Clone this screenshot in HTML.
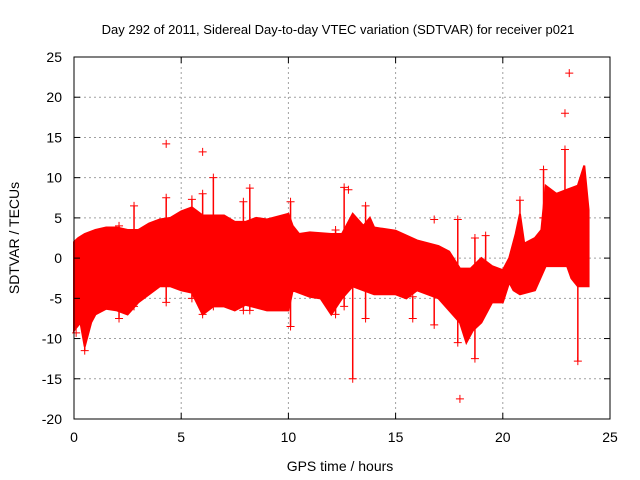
<!DOCTYPE html>
<html><head><meta charset="utf-8"><style>
body{margin:0;background:#fff;}
svg{display:block;font-family:"Liberation Sans",sans-serif;}
</style></head><body>
<svg id="chart" width="640" height="480" viewBox="0 0 640 480">
<rect width="640" height="480" fill="#fff"/>
<text x="338" y="34" font-size="13" text-anchor="middle">Day 292 of 2011, Sidereal Day-to-day VTEC variation (SDTVAR) for receiver p021</text>
<g id="grid"></g>
<g id="data"></g>
<rect x="74" y="57" width="536" height="362" fill="none" stroke="#000" stroke-width="1"/>
<g id="ticks"></g>
<text x="340" y="471" font-size="14" text-anchor="middle">GPS time / hours</text>
<text transform="translate(19,238) rotate(-90)" font-size="14" text-anchor="middle">SDTVAR / TECUs</text>
</svg>
<script>
const xTicks=[0,5,10,15,20,25];
const yTicks=[-20,-15,-10,-5,0,5,10,15,20,25];
const upperHours=[0,0.2,0.5,1,1.5,2,2.5,3,3.5,4,4.5,5,5.5,6,7,7.5,8,8.5,9,10,10.2,10.5,11,12,12.5,13,13.5,13.8,14,15,16,17,17.5,18,18.5,19,19.5,20,20.3,20.6,20.8,21,21.5,21.8,22,22.5,23,23.5,23.8,24];
const upperVals=[2,2.5,3,3.5,3.8,3.8,3.5,3.5,4.3,4.8,5,5.8,6.3,5.3,5.3,4.5,4.5,5,4.8,5.5,4,3,3.2,3,3,5.5,4,5,3.8,3.4,2.2,1.5,0.8,-1.3,-1.3,0,-1,-1.5,0,3,5.5,1.8,2.5,3.5,9,8,8.5,9,11.5,6];
const lowerHours=[0,0.3,0.5,0.8,1,1.5,2,2.5,3,3.5,4,4.5,5,5.5,6,6.5,7,7.5,8,9,10,10.2,11,11.5,12,12.5,13,13.5,14,15,15.5,16,17,18,18.3,18.6,19,19.5,20,20.3,20.5,20.8,21.5,22,23,23.2,23.5,24];
const lowerVals=[-9,-8,-11,-8,-7,-6.3,-6.5,-7,-5.5,-4.5,-3.5,-3.5,-4,-4.3,-7,-6,-6,-6.5,-5.8,-6.5,-6.5,-4,-4.8,-5,-7,-5,-3.5,-4,-4.5,-4.5,-5,-4,-5,-8,-10.5,-9,-8,-5.5,-5.5,-3,-4,-4.5,-4,-1,-1,-2.5,-3.5,-3.5];
const spikeHours=[0.5,2.1,2.8,4.3,5.5,6.0,6.5,7.9,8.2,10.1,12.2,12.6,13.0,13.6,15.8,16.8,17.9,18.7,19.2,20.8,21.9,22.9,23.5];
const spikeLow=[-11.5,-7.5,-6,-5.5,-5,-7,-6,-6.5,-6.5,-8.5,-7,-6,-15,-7.5,-7.5,-8.3,-10.5,-12.5,-2,2,5,5,-12.8];
const spikeHigh=[-5,4,6.5,7.5,7.3,8,10,7,8.7,7,3.5,8.8,3,6.5,-4.8,-4.5,4.8,2.5,2.8,7.2,11,13.5,-3];
const outlierHours=[4.3,6.0,23.1,22.9,18.0,16.8,12.8,0.1];
const outlierVals=[14.2,13.2,23,18,-17.5,4.8,8.5,-9.3];
const X0=74,X1=610,Y0=419,Y1=57;
const sx=h=>X0+(h-0)/25*(X1-X0);
const sy=v=>Y0-(v+20)/45*(Y0-Y1);
const NS="http://www.w3.org/2000/svg";
function mk(t,a,p){const e=document.createElementNS(NS,t);for(const k in a)e.setAttribute(k,a[k]);p.appendChild(e);return e;}
const grid=document.getElementById('grid'),ticks=document.getElementById('ticks'),data=document.getElementById('data');
xTicks.forEach(t=>{const x=sx(t);
 if(t>0&&t<25){const g=mk('line',{x1:x,x2:x,y1:Y1,y2:Y0,stroke:'#a0a0a0','stroke-dasharray':'2,3'},grid);}
 mk('line',{x1:x,x2:x,y1:Y0,y2:Y0-6,stroke:'#000'},ticks);mk('line',{x1:x,x2:x,y1:Y1,y2:Y1+6,stroke:'#000'},ticks);
 const l=mk('text',{x:x,y:Y0+23,'font-size':14,'text-anchor':'middle'},ticks);l.textContent=t;
 
 });
yTicks.forEach(t=>{const y=sy(t);
 if(t>-20&&t<25){const g=mk('line',{x1:X0,x2:X1,y1:y,y2:y,stroke:'#a0a0a0','stroke-dasharray':'2,3'},grid);}
 mk('line',{x1:X0,x2:X0+6,y1:y,y2:y,stroke:'#000'},ticks);mk('line',{x1:X1,x2:X1-6,y1:y,y2:y,stroke:'#000'},ticks);
 const l=mk('text',{x:X0-12,y:y+5,'font-size':14,'text-anchor':'end'},ticks);l.textContent=t;
 
 });
let pts=[];
upperHours.forEach((h,i)=>pts.push(sx(h)+','+sy(upperVals[i])));
for(let i=lowerHours.length-1;i>=0;i--)pts.push(sx(lowerHours[i])+','+sy(lowerVals[i]));
const band=mk('polygon',{points:pts.join(' '),fill:'#ff0000',stroke:'#ff0000','stroke-width':2},data);


function plus(x,y){mk('path',{d:`M${x-4},${y}h8M${x},${y-4}v8`,stroke:'#ff0000','stroke-width':1},data);}
spikeHours.forEach((h,i)=>{const x=sx(h);
 const s=mk('line',{x1:x,x2:x,y1:sy(spikeLow[i]),y2:sy(spikeHigh[i]),stroke:'#ff0000','stroke-width':1.5},data);
 
 
 plus(x,sy(spikeLow[i]));plus(x,sy(spikeHigh[i]));});
outlierHours.forEach((h,i)=>plus(sx(h),sy(outlierVals[i])));
</script>
</body></html>
